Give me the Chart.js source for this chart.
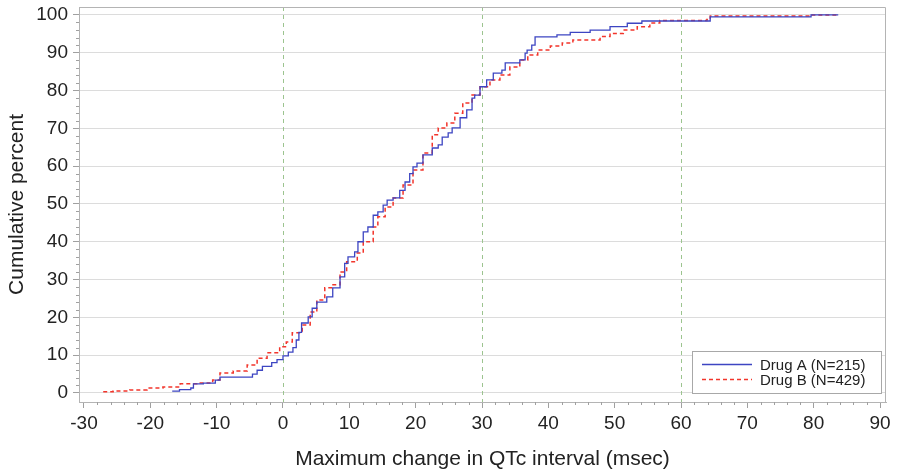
<!DOCTYPE html>
<html>
<head>
<meta charset="utf-8">
<script src="https://cdn.jsdelivr.net/npm/chart.js@4"></script>
<style>
  html, body { margin: 0; padding: 0; background: #fff; }
  canvas { display: block; }
</style>
</head>
<body>
<canvas id="cdfChart" width="899" height="472"></canvas>
<script>
// Cumulative distribution of maximum QTc change, one step line per drug
const drugAx = [-16.7, -15.6, -13.9, -13.5, -12.0, -10.2, -9.5, -4.6, -3.9, -3.1, -1.7, -0.9, 0.0, 0.8, 1.5,
  2.0, 2.4, 2.8, 3.8, 4.4, 5.1, 6.6, 7.5, 8.6, 9.3, 9.8, 10.8, 11.3, 12.1, 12.8, 13.6, 14.3, 15.1, 15.7,
  16.6, 17.6, 18.4, 19.1, 19.6, 20.2, 21.1, 22.5, 23.4, 24.0, 24.9, 25.5, 26.7, 27.7, 28.5, 28.9, 29.7,
  30.7, 31.7, 33.0, 33.5, 35.7, 36.5, 36.8, 37.5, 38.0, 41.3, 43.3, 46.3, 49.3, 51.9, 54.1, 64.4, 79.6, 83.7];
const drugAy = [0.5, 0.9, 1.3, 2.4, 2.6, 3.4, 4.2, 5.0, 6.0, 7.0, 8.0, 8.8, 9.8, 10.8, 12.0,
  14.0, 16.0, 18.5, 20.1, 22.4, 24.0, 25.4, 27.8, 30.7, 34.3, 36.0, 37.3, 40.0, 42.6, 43.9, 47.0, 47.9, 49.7, 51.0,
  51.6, 53.6, 55.8, 58.0, 59.8, 60.8, 63.0, 64.8, 65.6, 67.7, 68.8, 70.1, 72.8, 74.9, 78.0, 78.8, 81.0,
  82.8, 84.6, 85.4, 87.3, 88.1, 89.9, 90.7, 92.0, 94.2, 94.7, 95.4, 96.0, 96.9, 97.8, 98.4, 99.5, 100, 100];

const drugBx = [-27.1, -25.6, -23.1, -20.5, -18.1, -15.5, -13.0, -10.6, -9.5, -7.5, -5.4, -3.9, -2.4, -0.5,
  0.5, 1.4, 2.9, 4.1, 5.1, 6.3, 7.4, 8.6, 9.6, 11.2, 12.1, 13.6, 14.3, 15.4, 16.6, 18.1, 19.6, 21.1, 22.5,
  23.4, 24.7, 25.9, 27.1, 28.5, 29.7, 31.2, 32.7, 34.2, 35.7, 36.9, 38.4, 40.3, 42.1, 43.7, 47.8, 49.3,
  51.3, 53.4, 55.3, 56.8, 63.9, 64.4, 79.5, 83.7];
const drugBy = [0.3, 0.5, 0.8, 1.3, 1.6, 2.4, 2.6, 3.4, 5.3, 5.8, 7.4, 9.2, 10.6, 12.2,
  13.5, 15.9, 18.0, 21.4, 24.6, 27.8, 28.6, 32.0, 34.7, 37.0, 40.0, 43.9, 46.6, 49.2, 51.6, 55.0, 59.0, 63.5, 68.3,
  70.1, 71.4, 74.0, 76.7, 78.8, 81.0, 82.8, 84.1, 86.2, 88.1, 89.4, 90.7, 91.8, 92.6, 93.4, 94.3, 95.1,
  96.0, 96.9, 97.9, 98.5, 98.8, 99.7, 100, 100];

const xTicks = [-30, -20, -10, 0, 10, 20, 30, 40, 50, 60, 70, 80, 90];
const yTicks = [0, 10, 20, 30, 40, 50, 60, 70, 80, 90, 100];
const refLines = [0, 30, 60];
const minorStep = 2;

const toPoints = (xs, ys) => xs.map((v, i) => ({ x: v, y: ys[i] }));

Chart.defaults.font.family = "'Liberation Sans', Arial, Helvetica, sans-serif";
Chart.defaults.color = '#222';

const extras = {
  id: 'extras',
  beforeDatasetsDraw(chart) {
    const { ctx, chartArea: a, scales: { x, y } } = chart;
    ctx.save();
    ctx.lineWidth = 1;

    // reference lines
    ctx.strokeStyle = '#9cc48f';
    ctx.setLineDash([4, 4]);
    refLines.forEach(v => {
      const px = Math.round(x.getPixelForValue(v)) + 0.5;
      ctx.beginPath();
      ctx.moveTo(px, a.top);
      ctx.lineTo(px, a.bottom);
      ctx.stroke();
    });
    ctx.setLineDash([]);

    // top and right edges of the frame
    ctx.strokeStyle = '#b4b4b4';
    ctx.beginPath();
    ctx.moveTo(a.left, a.top + 0.5);
    ctx.lineTo(a.right - 0.5, a.top + 0.5);
    ctx.lineTo(a.right - 0.5, a.bottom);
    ctx.stroke();

    // minor ticks
    ctx.strokeStyle = '#a0a0a0';
    ctx.beginPath();
    for (let v = xTicks[0]; v <= xTicks[xTicks.length - 1]; v += minorStep) {
      if (v % 10 === 0) continue;
      const px = Math.round(x.getPixelForValue(v)) + 0.5;
      ctx.moveTo(px, a.bottom);
      ctx.lineTo(px, a.bottom + 3);
    }
    for (let v = yTicks[0]; v <= yTicks[yTicks.length - 1]; v += minorStep) {
      if (v % 10 === 0) continue;
      const py = Math.round(y.getPixelForValue(v)) + 0.5;
      ctx.moveTo(a.left, py);
      ctx.lineTo(a.left - 3, py);
    }
    ctx.stroke();
    ctx.restore();
  },
  afterDraw(chart) {
    const { ctx } = chart;
    const box = { left: 692, top: 351, width: 189, height: 42 };
    ctx.save();
    ctx.fillStyle = '#fff';
    ctx.fillRect(box.left, box.top, box.width, box.height);
    ctx.strokeStyle = '#a8a8a8';
    ctx.lineWidth = 1;
    ctx.strokeRect(box.left + 0.5, box.top + 0.5, box.width, box.height);

    ctx.font = "15px 'Liberation Sans', Arial, sans-serif";
    ctx.textBaseline = 'middle';
    ctx.fillStyle = '#222';
    chart.data.datasets.forEach((ds, i) => {
      const ly = box.top + 13.5 + i * 15;
      ctx.strokeStyle = ds.borderColor;
      ctx.lineWidth = ds.borderWidth;
      ctx.setLineDash(ds.borderDash || []);
      ctx.beginPath();
      ctx.moveTo(box.left + 10, ly);
      ctx.lineTo(box.left + 60, ly);
      ctx.stroke();
      ctx.setLineDash([]);
      ctx.fillText(ds.label, box.left + 68, ly + 1);
    });
    ctx.restore();
  }
};

new Chart(document.getElementById('cdfChart'), {
  type: 'line',
  data: {
    datasets: [
      {
        label: 'Drug A (N=215)',
        data: toPoints(drugAx, drugAy),
        borderColor: '#3d45c2',
        borderWidth: 1.3,
        stepped: 'before',
        pointRadius: 0
      },
      {
        label: 'Drug B (N=429)',
        data: toPoints(drugBx, drugBy),
        borderColor: '#f2352b',
        borderWidth: 1.5,
        borderDash: [4, 3],
        stepped: 'before',
        pointRadius: 0
      }
    ]
  },
  options: {
    responsive: false,
    animation: false,
    layout: { padding: { top: 7, right: 13, left: 0, bottom: 0 } },
    plugins: {
      legend: { display: false },
      tooltip: { enabled: false }
    },
    scales: {
      x: {
        type: 'linear',
        min: -30.75,
        max: 90.9,
        afterBuildTicks: s => { s.ticks = xTicks.map(v => ({ value: v })); },
        afterFit: s => {
          s.height = 70;
          s.paddingLeft = 0;
          s.paddingRight = 0;
        },
        ticks: { font: { size: 19 }, color: '#222', padding: 4, maxRotation: 0 },
        grid: { drawOnChartArea: false, tickLength: 6, tickColor: '#a0a0a0' },
        border: { color: '#b4b4b4' },
        title: {
          display: true,
          text: 'Maximum change in QTc interval (msec)',
          font: { size: 21 },
          color: '#222',
          padding: { top: 4, bottom: 0 }
        }
      },
      y: {
        min: -2.4,
        max: 102.1,
        afterBuildTicks: s => { s.ticks = yTicks.map(v => ({ value: v })); },
        afterFit: s => {
          s.width = 79;
          s.paddingTop = 0;
          s.paddingBottom = 0;
        },
        ticks: { font: { size: 19 }, color: '#222', padding: 5 },
        grid: { color: '#dcdcdc', tickLength: 6, tickColor: '#a0a0a0' },
        border: { color: '#b4b4b4' },
        title: {
          display: true,
          text: 'Cumulative percent',
          font: { size: 21 },
          color: '#222',
          padding: { top: 5, bottom: 0 }
        }
      }
    }
  },
  plugins: [extras]
});
</script>
</body>
</html>
